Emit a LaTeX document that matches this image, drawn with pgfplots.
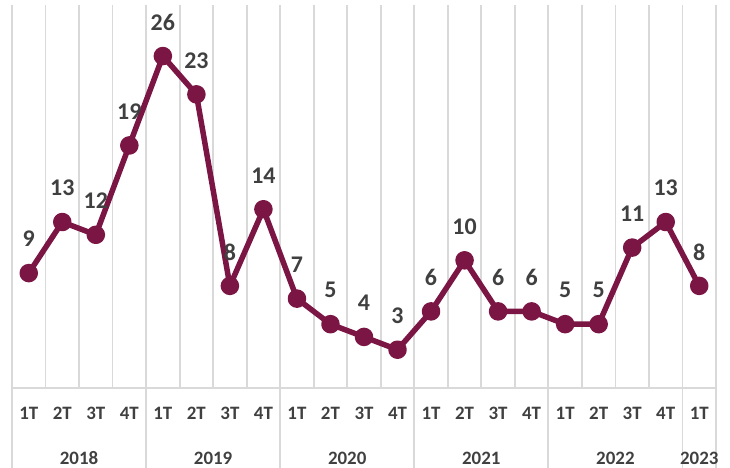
\documentclass[border=0pt]{standalone}
\usepackage{pgfplots}
\pgfplotsset{compat=1.18}
\usepackage{fontspec}
\setmainfont{Carlito}
\definecolor{wine}{RGB}{122,21,68}
\definecolor{lbl}{RGB}{64,64,64}
\definecolor{grd}{RGB}{217,217,217}
\begin{document}
\begin{tikzpicture}
\useasboundingbox (-12bp,-80bp) rectangle (718bp,388bp);
\begin{axis}[
    scale only axis,
    width=704bp, height=383bp,
    xmin=-0.5, xmax=20.5, ymin=0, ymax=30,
    clip=false,
    axis line style={draw=none},
    ytick=\empty,
    xtick={0,...,20},
    xticklabels={1T,2T,3T,4T,1T,2T,3T,4T,1T,2T,3T,4T,1T,2T,3T,4T,1T,2T,3T,4T,1T},
    minor xtick={-0.5,0.5,...,20.5},
    xminorgrids,
    minor grid style={draw=grd, line width=1.8bp},
    tick style={draw=none},
    xticklabel style={anchor=center, yshift=-25bp, font=\bfseries\fontsize{19}{19}\selectfont, text=lbl},
    /pgf/number format/assume math mode=true,
    nodes near coords,
    every node near coord/.append style={anchor=center, yshift=34bp, font=\bfseries\fontsize{24}{24}\selectfont, text=lbl},
]
\addplot[wine, line width=5.5bp, line join=round, mark=*, mark size=6.5bp,
    mark options={draw=none, fill=wine}] coordinates {
    (0,9) (1,13) (2,12) (3,19) (4,26) (5,23) (6,8) (7,14) (8,7) (9,5) (10,4)
    (11,3) (12,6) (13,10) (14,6) (15,6) (16,5) (17,5) (18,11) (19,13) (20,8)
};
\draw[grd, line width=1.8bp] (axis cs:-0.5,0) -- (axis cs:20.5,0);
\pgfplotsinvokeforeach{-0.5,3.5,7.5,11.5,15.5,19.5,20.5}{
    \draw[grd, line width=1.8bp] (axis cs:#1,0) -- ([yshift=-80bp]axis cs:#1,0);
}
\tikzset{yr/.style={text=lbl, font=\bfseries\fontsize{19}{19}\selectfont, yshift=-70bp}}
\node[yr] at (axis cs:1.5,0) {2018};
\node[yr] at (axis cs:5.5,0) {2019};
\node[yr] at (axis cs:9.5,0) {2020};
\node[yr] at (axis cs:13.5,0) {2021};
\node[yr] at (axis cs:17.5,0) {2022};
\node[yr] at (axis cs:20,0) {2023};
\end{axis}
\end{tikzpicture}
\end{document}
